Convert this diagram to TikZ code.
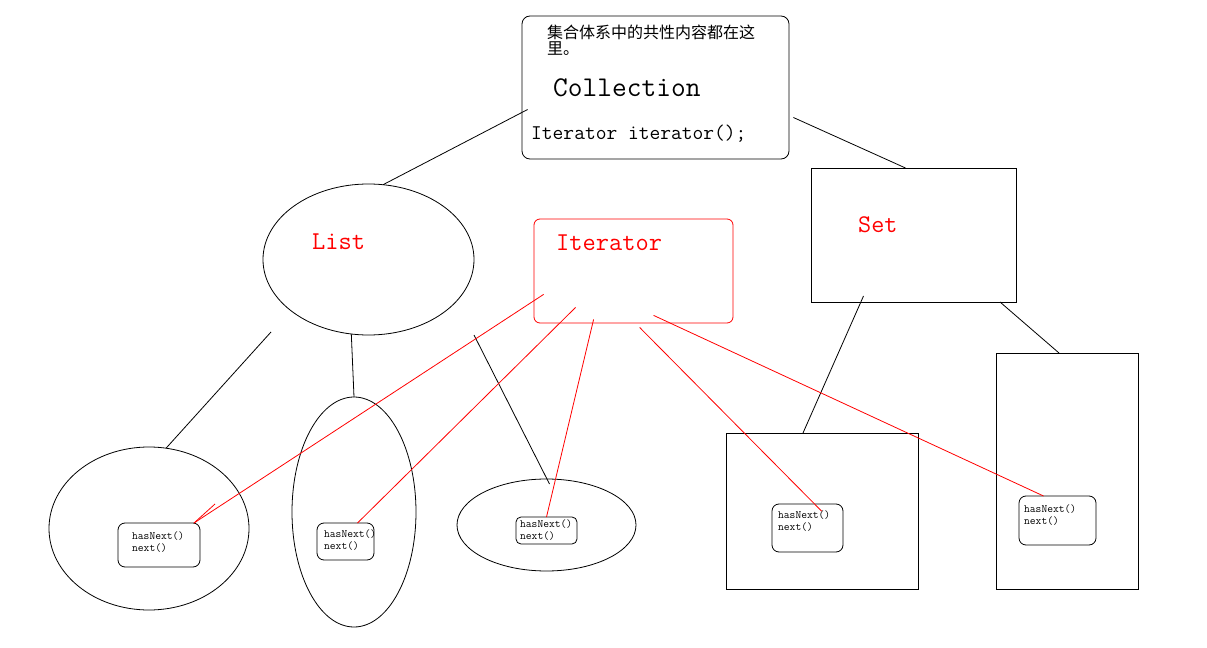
\documentclass[tikz,border=0pt]{standalone}
\usepackage{fontspec}
\newfontfamily\cjk{Noto Sans CJK SC}
\usepackage{tikz}
\usetikzlibrary{calc, shapes.geometric, positioning}

\begin{document}
\begin{tikzpicture}[x=1bp, y=-1bp,
		link/.style={draw=black, line width=0.8bp},
		redlink/.style={draw=red, line width=0.8bp},
		blob/.style={ellipse, draw=black, line width=0.8bp, inner sep=0pt, outer sep=0pt},
		frame/.style={rectangle, draw=black, line width=0.8bp, inner sep=0pt, outer sep=0pt},
		codebox/.style={rectangle, draw=black, line width=0.8bp, rounded corners=7bp, inner sep=0pt, outer sep=0pt},
		code/.style={anchor=north west, inner sep=0pt, align=left, font=\ttfamily\fontsize{11.2bp}{12bp}\selectfont},
		redtag/.style={anchor=base west, inner sep=0pt, text=red, font=\ttfamily\fontsize{25.7bp}{28bp}\selectfont}]
		\useasboundingbox[fill=white] (0,0) rectangle (1207,648);
		%-------------------------------------------------------------------------------
		% Collection
		%-------------------------------------------------------------------------------
		\node[rectangle, draw=black, line width=0.8bp, rounded corners=8bp, inner sep=0pt, minimum width=267bp, minimum height=143bp] (coll) 
			at (655.5,87.5) {};
		\node[anchor=north west, inner sep=0pt, align=left, font=\cjk\fontsize{16bp}{16bp}\selectfont] (note) 
			at (547,25) {集合体系中的共性内容都在这\\里。};
		\node[anchor=base west, inner sep=0pt, font=\ttfamily\fontsize{28.6bp}{30bp}\selectfont] (collname) 
			at (553,97) {Collection};
		\node[anchor=base west, inner sep=0pt, font=\ttfamily\fontsize{20.9bp}{22bp}\selectfont] (collmeth) 
			at (531,140) {Iterator iterator();};
		
		% core nodes
		\node[blob, minimum width=211bp, minimum height=151bp] (list) at (368.5,259.5) {};
		\node[rectangle, draw=red, line width=0.8bp, rounded corners=6bp, inner sep=0pt, minimum width=199bp, minimum height=104bp] (iter) 
			at (633.5,271) {};
		\node[frame, minimum width=205bp, minimum height=134bp] (set) at (913.5,235) {};
		
		% containers
		\node[blob, minimum width=200bp, minimum height=163bp] (la) at (149,528.5) {};
		\node[blob, minimum width=124bp, minimum height=230bp] (lb) at (354,512) {};
		\node[blob, minimum width=179bp, minimum height=92bp] (lc) at (546.5,525) {};
		\node[frame, minimum width=192bp, minimum height=156bp] (sa) at (822,511) {};
		\node[frame, minimum width=142bp, minimum height=236bp] (sb) at (1067,471) {};
		
		% inner iterators
		\node[codebox, minimum width=82bp, minimum height=44bp] (ia) at (159,545) {};
		\node[codebox, minimum width=57bp, minimum height=37bp] (ib) at (345.5,541.5) {};
		\node[codebox, rounded corners=5bp, minimum width=61bp, minimum height=27bp] (ic) at (546.5,530.5) {};
		\node[codebox, minimum width=71bp, minimum height=48bp] (id) at (807.5,528) {};
		\node[codebox, minimum width=77bp, minimum height=49bp] (ie) at (1057.5,520.5) {};
		\node[code] (ta) at ($(ia.north west)+(14,9)$) {hasNext()\\next()};
		\node[code] (tb) at ($(ib.north west)+(7,7)$) {hasNext()\\next()};
		\node[code] (tc) at ($(ic.north west)+(4,3)$) {hasNext()\\next()};
		\node[code] (td) at ($(id.north west)+(6,7)$) {hasNext()\\next()};
		\node[code] (te) at ($(ie.north west)+(5,9)$) {hasNext()\\next()};
		
		% hierarchy
		\draw ($(coll.west)+(6,22)$) edge[link] (list.79);
		\draw ($(coll.east)+(4,30)$) edge[link] ($(set.north)+(-8,0)$);
		\draw ($(list.south)+(-97.5,-3)$) edge[link] (la.78);
		\draw (list.257) edge[link] (lb.north);
		\draw ($(list.south)+(105.5,0)$) edge[link] ($(lc.north)+(3,5)$);
		\draw ($(set.south)+(-50,-6)$) edge[link] ($(sa.north)+(-19,0)$);
		\draw ($(set.south east)+(-16,0)$) edge[link] ($(sb.north)+(-8,0)$);
		
		% iterator links
		\coordinate (tip) at ($(ia.north east)+(-6,0)$);
		\draw ($(iter.south west)+(10,-29)$) edge[redlink] (tip);
		\draw ($(tip)+(21,-19)$) edge[redlink] (tip);
		\draw ($(iter.south west)+(42,-16)$) edge[redlink] ($(ib.north)+(12,0)$);
		\draw ($(iter.south west)+(60,-4)$) edge[redlink] (ic.north);
		\draw ($(iter.south west)+(106,4)$) edge[redlink] ($(id.north)+(14,7)$);
		\draw ($(iter.south west)+(120,-8)$) edge[redlink] ($(ie.north)+(-14,0)$);
		
		% labels
		\node[redtag] (listname) at (312,250) {List};
		\node[redtag] (itername) at (556,251) {Iterator};
		\node[redtag, font=\ttfamily\fontsize{25.4bp}{28bp}\selectfont] (setname) at (858,233) {Set};
\end{tikzpicture}
\end{document}
